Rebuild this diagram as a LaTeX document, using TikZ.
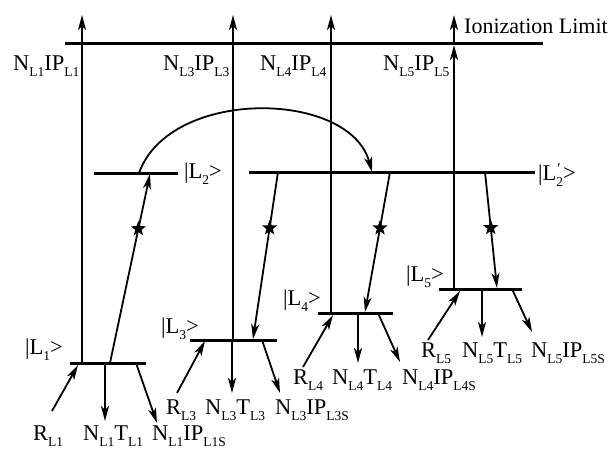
\documentclass[tikz,border=0pt]{standalone}
\usepackage{fontspec}
\setmainfont{Liberation Serif}
\usetikzlibrary{arrows.meta,shapes.geometric}
\newcommand{\sbs}[1]{\raisebox{-6pt}{\fontsize{13.5}{13.5}\selectfont #1}}
\newcommand{\prm}{\rlap{\raisebox{7pt}{\fontsize{15}{15}\selectfont\hspace{1pt}′}}}
\begin{document}
\begin{tikzpicture}[x=1pt,y=-1pt,font=\fontsize{22.5}{27}\selectfont,
  lev/.style={line width=3pt},
  vl/.style={line width=2pt},
  arr/.style={line width=1.8pt,-{Stealth[length=15pt,width=8pt,inset=4pt]}},
  lbl/.style={anchor=base west,inner sep=0pt},
  starn/.style={star,star points=5,star point ratio=2.4,fill=black,draw=none,minimum size=16pt,inner sep=0pt}]
\useasboundingbox (0,0) rectangle (613,450);
% coordinates
\coordinate (ionL) at (65,43); \coordinate (ionR) at (543,43);
\coordinate (l1a) at (70,363); \coordinate (l1b) at (146,363);
\coordinate (l2a) at (94,173); \coordinate (l2b) at (178,173);
\coordinate (l2pa) at (249,172); \coordinate (l2pb) at (535,172);
\coordinate (l3a) at (190,340); \coordinate (l3b) at (277,340);
\coordinate (l4a) at (318,313); \coordinate (l4b) at (393,313);
\coordinate (l5a) at (439,289); \coordinate (l5b) at (522,289);
\coordinate (v1b) at (82,363); \coordinate (v1t) at (82,15);
\coordinate (v3b) at (233,340); \coordinate (v3t) at (233,15);
\coordinate (v4b) at (331,313); \coordinate (v4t) at (331,15);
\coordinate (v5b) at (454,289); \coordinate (v5m) at (454,45); \coordinate (v5t) at (454,15);
% verticals
\draw[arr] (v1b) -- (v1t);
\draw[arr] (v3b) -- (v3t);
\draw[arr] (v4b) -- (v4t);
\draw[arr,line width=2.6pt] (v5b) -- (v5m);
\draw[arr,line width=2.6pt] (v5m) -- (v5t);
% levels
\draw[lev] (ionL) -- (ionR);
\draw[lev] (l1a) -- (l1b);
\draw[lev] (l2a) -- (l2b);
\draw[lev] (l2pa) -- (l2pb);
\draw[lev] (l3a) -- (l3b);
\draw[lev] (l4a) -- (l4b);
\draw[lev] (l5a) -- (l5b);
% excitation arrows
\coordinate (a12s) at (110,363); \coordinate (a12e) at (150,174);
\coordinate (c2s) at (139,173); \coordinate (c2e) at (372,172);
\coordinate (a23s) at (278,172); \coordinate (a23e) at (253,339);
\coordinate (a24s) at (390,172); \coordinate (a24e) at (365,312);
\coordinate (a25s) at (485,172); \coordinate (a25e) at (497,288);
\draw[arr] (a12s) -- node[starn,pos=0.71] (s1) {} (a12e);
\draw[arr] (c2s) .. controls (170,87) and (350,90) .. (c2e);
\draw[arr] (a23s) -- node[starn,pos=0.335] (s2) {} (a23e);
\draw[arr] (a24s) -- node[starn,pos=0.4] (s3) {} (a24e);
\draw[arr] (a25s) -- node[starn,pos=0.48] (s4) {} (a25e);
% bottom arrows
\coordinate (r1s) at (52,411); \coordinate (r1e) at (78,365);
\coordinate (t1s) at (105,363); \coordinate (t1e) at (105,421);
\coordinate (p1s) at (136,363); \coordinate (p1e) at (157,423);
\coordinate (r3s) at (177,393); \coordinate (r3e) at (205,341);
\coordinate (t3s) at (232,340); \coordinate (t3e) at (232,393);
\coordinate (p3s) at (262,340); \coordinate (p3e) at (280,393);
\coordinate (r4s) at (303,367); \coordinate (r4e) at (333,315);
\coordinate (t4s) at (358,313); \coordinate (t4e) at (358,363);
\coordinate (p4s) at (378,313); \coordinate (p4e) at (400,362);
\coordinate (r5s) at (428,340); \coordinate (r5e) at (460,291);
\coordinate (t5s) at (482,289); \coordinate (t5e) at (482,337);
\coordinate (p5s) at (512,289); \coordinate (p5e) at (532,332);
\foreach \a in {r1,t1,p1,r3,t3,p3,r4,t4,p4,r5,t5,p5}
  \draw[arr] (\a s) -- (\a e);
% top labels
\node[lbl] (n1) at (13,70) {N\sbs{L1}IP\sbs{L1}};
\node[lbl] (n3) at (163,70) {N\sbs{L3}IP\sbs{L3}};
\node[lbl] (n4) at (260,70) {N\sbs{L4}IP\sbs{L4}};
\node[lbl] (n5) at (383,70) {N\sbs{L5}IP\sbs{L5}};
\node[lbl,font=\fontsize{22}{26}\selectfont] (ion) at (464,33) {Ionization Limit};
% state labels
\node[lbl] (sL2) at (184,178) {|L\sbs{2}>};
\node[lbl] (sL2p) at (538,180) {|L\prm\sbs{2}>};
\node[lbl] (sL1) at (25,354) {|L\sbs{1}>};
\node[lbl] (sL3) at (161,333) {|L\sbs{3}>};
\node[lbl] (sL4) at (283,305) {|L\sbs{4}>};
\node[lbl] (sL5) at (406,281) {|L\sbs{5}>};
% bottom labels
\node[lbl] (b1r) at (33,440) {R\sbs{L1}};
\node[lbl] (b1t) at (83,440) {N\sbs{L1}T\sbs{L1}};
\node[lbl] (b1p) at (152,440) {N\sbs{L1}IP\sbs{L1S}};
\node[lbl] (b3r) at (166,414) {R\sbs{L3}};
\node[lbl] (b3t) at (205,414) {N\sbs{L3}T\sbs{L3}};
\node[lbl] (b3p) at (275,414) {N\sbs{L3}IP\sbs{L3S}};
\node[lbl] (b4r) at (293,384) {R\sbs{L4}};
\node[lbl] (b4t) at (332,384) {N\sbs{L4}T\sbs{L4}};
\node[lbl] (b4p) at (402,384) {N\sbs{L4}IP\sbs{L4S}};
\node[lbl] (b5r) at (421,357) {R\sbs{L5}};
\node[lbl] (b5t) at (462,357) {N\sbs{L5}T\sbs{L5}};
\node[lbl] (b5p) at (531,357) {N\sbs{L5}IP\sbs{L5S}};
\end{tikzpicture}
\end{document}
